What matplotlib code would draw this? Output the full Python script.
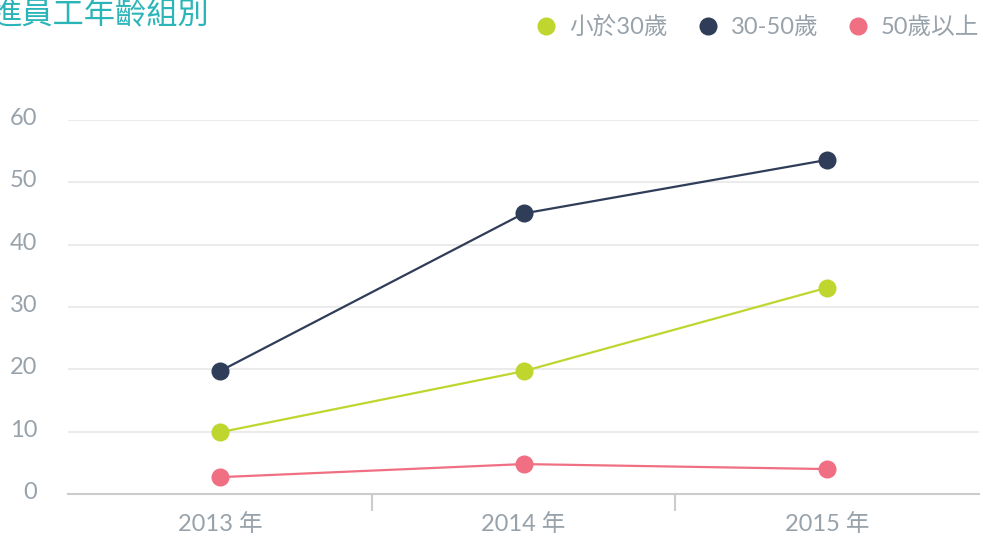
import matplotlib
matplotlib.use("Agg")
import matplotlib.pyplot as plt
from matplotlib.lines import Line2D
from matplotlib.transforms import ScaledTranslation

years = ["2013 年", "2014 年", "2015 年"]
series_names = ["小於30歲", "30-50歲", "50歲以上"]
under30 = [9.9, 19.7, 33.1]
mid30_50 = [19.7, 45.0, 53.6]
over50 = [2.7, 4.8, 4.0]
yticks = [0, 10, 20, 30, 40, 50, 60]
title = "進員工年齡組別"

colors = ["#bfd62f", "#2f3d59", "#f06f82"]
label_color = "#98a2ab"
fam = ["Lato", "Noto Sans CJK TC", "DejaVu Sans"]
plt.rcParams["font.family"] = fam

W, H = 983, 538
fig = plt.figure(figsize=(W / 100, H / 100), dpi=100)
ax = fig.add_axes([68 / W, 1 - 494 / H, (979 - 68) / W, (494 - 120) / H])

x = list(range(len(years)))
for vals, c in zip([under30, mid30_50, over50], colors):
    ax.plot(x, vals, color=c, lw=1.6, marker="o", markersize=13,
            markeredgewidth=0, zorder=3, clip_on=False)

ax.set_xlim(-0.5, len(years) - 0.5)
ax.set_ylim(0, 60)
ax.set_yticks(yticks)
ax.set_yticklabels([str(v) for v in yticks])
ax.set_xticks(x)
ax.set_xticklabels(years)
ax.set_xticks([0.5, 1.5], minor=True)

for v in yticks[1:]:
    ax.axhline(v, color="#ebebeb", lw=1.5, zorder=1)

for s in ["top", "right", "left"]:
    ax.spines[s].set_visible(False)
ax.spines["bottom"].set_color("#cccccc")
ax.spines["bottom"].set_linewidth(1.5)

ax.tick_params(axis="y", length=0, pad=22, labelsize=17, labelcolor=label_color)
ax.tick_params(axis="x", which="major", length=0, pad=14, labelsize=17, labelcolor=label_color)
ax.tick_params(axis="x", which="minor", length=12, width=1.5, color="#cccccc")

off = ScaledTranslation(0, 3.5 / 100, fig.dpi_scale_trans)
for lab in ax.get_yticklabels():
    lab.set_transform(lab.get_transform() + off)

fig.text(-10 / W, 1 - 15 / H, title, color="#2bb5b9", fontsize=22.5,
         ha="left", va="center", family=["Noto Sans CJK TC", "DejaVu Sans"])

handles = [Line2D([], [], linestyle="none", marker="o", markersize=13,
                  markeredgewidth=0, color=c) for c in colors]
leg = ax.legend(handles, series_names, ncol=3, loc="center right",
                bbox_to_anchor=(979 / W, 1 - 27 / H), bbox_transform=fig.transFigure,
                frameon=False, borderpad=0, borderaxespad=0, handlelength=1.0,
                handletextpad=0.47, columnspacing=1.18, fontsize=17)
for t in leg.get_texts():
    t.set_color(label_color)

fig.savefig("out.png", dpi=100)
